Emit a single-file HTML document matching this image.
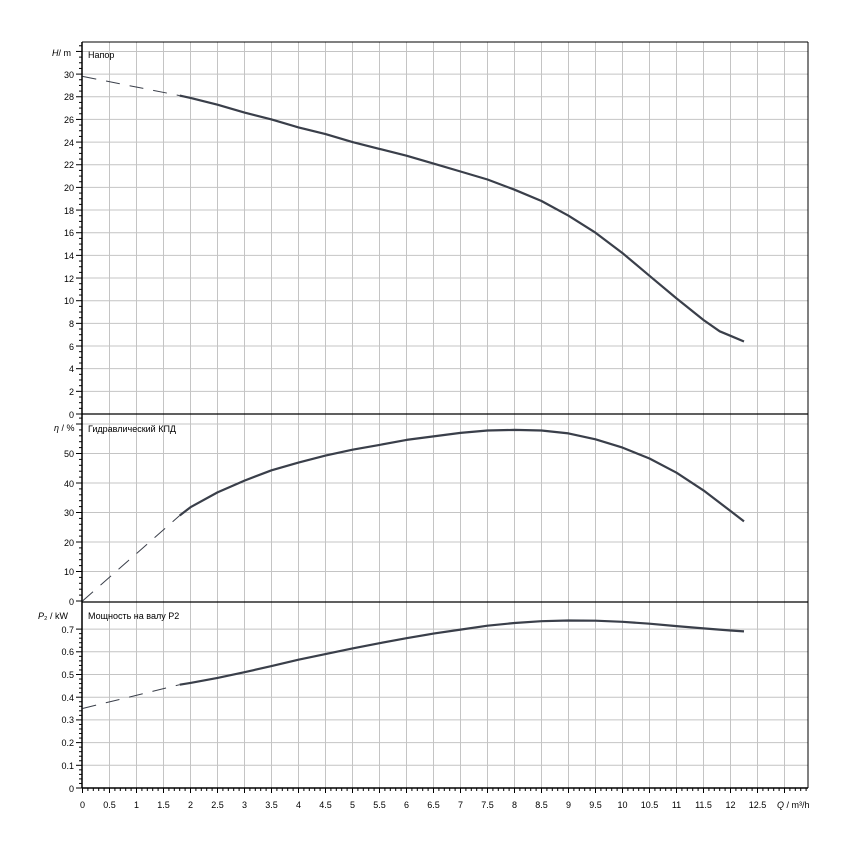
<!DOCTYPE html><html><head><meta charset="utf-8"><style>
body{margin:0;background:#fff}
svg text{font-family:"Liberation Sans",sans-serif;font-size:9px;fill:#000}
</style></head><body>
<svg id="s" width="850" height="850" xmlns="http://www.w3.org/2000/svg">
<g id="gg"></g>
<g text-anchor="end">
<text x="74" y="418">0</text><text x="74" y="395">2</text><text x="74" y="372">4</text><text x="74" y="350">6</text><text x="74" y="327">8</text><text x="74" y="304">10</text><text x="74" y="282">12</text><text x="74" y="259">14</text><text x="74" y="236">16</text><text x="74" y="214">18</text><text x="74" y="191">20</text><text x="74" y="168">22</text><text x="74" y="146">24</text><text x="74" y="123">26</text><text x="74" y="100">28</text><text x="74" y="78">30</text>
<text x="74" y="605">0</text><text x="74" y="575">10</text><text x="74" y="546">20</text><text x="74" y="516">30</text><text x="74" y="487">40</text><text x="74" y="457">50</text>
<text x="74" y="792">0</text><text x="74" y="769">0.1</text><text x="74" y="746">0.2</text><text x="74" y="723">0.3</text><text x="74" y="701">0.4</text><text x="74" y="678">0.5</text><text x="74" y="655">0.6</text><text x="74" y="633">0.7</text>
</g>
<g text-anchor="middle">
<text x="82.5" y="808">0</text><text x="109.5" y="808">0.5</text><text x="136.5" y="808">1</text><text x="163.5" y="808">1.5</text><text x="190.5" y="808">2</text><text x="217.5" y="808">2.5</text><text x="244.5" y="808">3</text><text x="271.5" y="808">3.5</text><text x="298.5" y="808">4</text><text x="325.5" y="808">4.5</text><text x="352.5" y="808">5</text><text x="379.5" y="808">5.5</text><text x="406.5" y="808">6</text><text x="433.5" y="808">6.5</text><text x="460.5" y="808">7</text><text x="487.5" y="808">7.5</text><text x="514.5" y="808">8</text><text x="541.5" y="808">8.5</text><text x="568.5" y="808">9</text><text x="595.5" y="808">9.5</text><text x="622.5" y="808">10</text><text x="649.5" y="808">10.5</text><text x="676.5" y="808">11</text><text x="703.5" y="808">11.5</text><text x="730.5" y="808">12</text><text x="757.5" y="808">12.5</text>
</g>
<text x="777" y="808"><tspan font-style="italic">Q</tspan> / m³/h</text>
<text x="52" y="56"><tspan font-style="italic">H</tspan>/ m</text>
<text x="88" y="58">Напор</text>
<text x="54" y="431"><tspan font-style="italic">η</tspan> / %</text>
<text x="88" y="432">Гидравлический КПД</text>
<text x="38" y="619"><tspan font-style="italic">P</tspan>₂ / kW</text>
<text x="88" y="619">Мощность на валу P2</text>
</svg>
<script>
(function(){
var G=document.getElementById('gg'),NS="http://www.w3.org/2000/svg";
function L(x1,y1,x2,y2,c,w){var el=document.createElementNS(NS,'line');el.setAttribute('x1',x1);el.setAttribute('y1',y1);el.setAttribute('x2',x2);el.setAttribute('y2',y2);el.setAttribute('stroke',c);el.setAttribute('stroke-width',w);G.appendChild(el);}
function X(q){return 82.5+54*q;}
function YH(v){return 414-11.33*v;}
function YE(v){return 601-2.95*v;}
function YP(v){return 788-227*v;}
var R=808,T=42,B=788,i,k;
for(i=1;i<=26;i++)L(X(i*0.5),T,X(i*0.5),B,'#c4c4c4',1);
for(i=1;i<=16;i++)L(82,YH(i*2),R,YH(i*2),'#c4c4c4',1);
for(i=1;i<=6;i++)L(82,YE(i*10),R,YE(i*10),'#c4c4c4',1);
for(i=1;i<=7;i++)L(82,YP(i*0.1),R,YP(i*0.1),'#c4c4c4',1);
for(i=0;i<=65;i++)L(82,YH(i*0.5),(i%4==0)?76:79,YH(i*0.5),'#000',1);
for(i=0;i<=31;i++)L(82,YE(i*2),(i%5==0)?76:79,YE(i*2),'#000',1);
for(i=0;i<=35;i++)L(82,YP(i*0.02),(i%5==0)?76:79,YP(i*0.02),'#000',1);
for(i=0;i<=134;i++)L(X(i*0.1),B,X(i*0.1),B+((i%5==0)?5:3),'#000',1);
L(82,T,R,T,'#000',1);L(R,T,R,B,'#000',1);L(82,T,82,B,'#000',1.5);L(82,B,R,B,'#000',1.5);
L(82,414,R,414,'#000',1.2);L(82,602,R,602,'#000',1.2);
function curve(pts,fy,dash){var d='';for(k=0;k<pts.length;k++){d+=(k?'L':'M')+X(pts[k][0]).toFixed(1)+','+fy(pts[k][1]).toFixed(1);}
var el=document.createElementNS(NS,'path');el.setAttribute('d',d);el.setAttribute('fill','none');el.setAttribute('stroke','#3a3f4a');el.setAttribute('stroke-width',dash?1:2.2);el.setAttribute('stroke-linejoin','round');if(dash)el.setAttribute('stroke-dasharray','14,10');G.appendChild(el);}
curve([[0,29.8],[1.8,28.1]],YH,1);
curve([[1.8,28.1],[2,27.9],[2.5,27.3],[3,26.6],[3.5,26],[4,25.3],[4.5,24.7],[5,24.0],[5.5,23.4],[6,22.8],[6.5,22.1],[7,21.4],[7.5,20.7],[8,19.8],[8.5,18.8],[9,17.5],[9.5,16.0],[10,14.2],[10.5,12.2],[11,10.2],[11.5,8.3],[11.8,7.3],[12,6.9],[12.25,6.4]],YH);
curve([[0,0],[1.8,29]],YE,1);
curve([[1.8,29],[2,31.8],[2.5,36.8],[3,40.8],[3.5,44.3],[4,46.9],[4.5,49.3],[5,51.3],[5.5,52.9],[6,54.6],[6.5,55.8],[7,57],[7.5,57.8],[8,58],[8.5,57.8],[9,56.8],[9.5,54.8],[10,52],[10.5,48.3],[11,43.5],[11.5,37.5],[12,30.5],[12.25,27]],YE);
curve([[0,0.35],[1.8,0.455]],YP,1);
curve([[1.8,0.455],[2,0.463],[2.5,0.485],[3,0.51],[3.5,0.537],[4,0.565],[4.5,0.59],[5,0.615],[5.5,0.638],[6,0.66],[6.5,0.68],[7,0.698],[7.5,0.715],[8,0.727],[8.5,0.735],[9,0.738],[9.5,0.737],[10,0.732],[10.5,0.724],[11,0.713],[11.5,0.703],[12,0.694],[12.25,0.69]],YP);
})();
</script>
</body></html>
